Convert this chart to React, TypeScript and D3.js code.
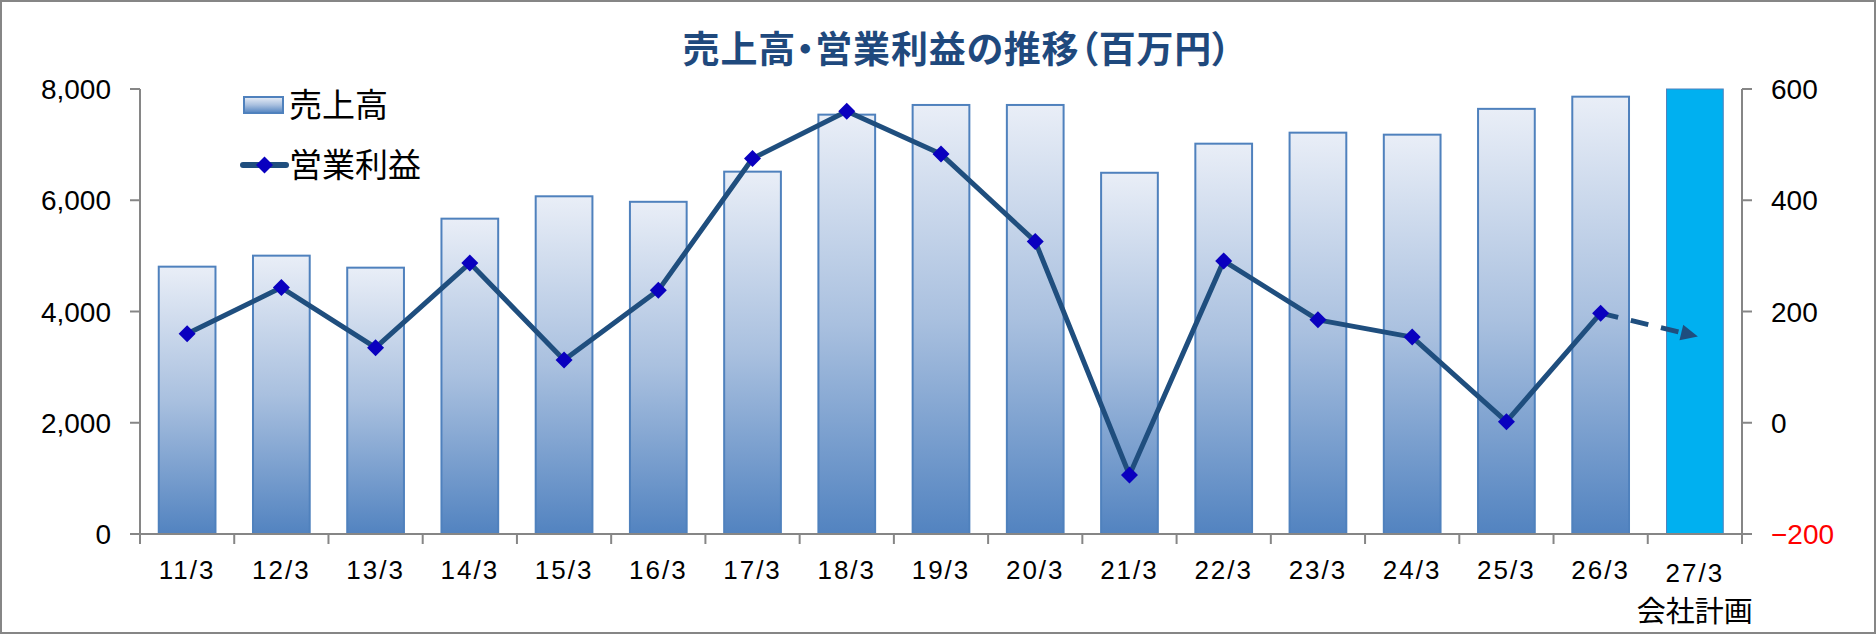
import React from "react";
import * as d3 from "d3";

const categories = ["11/3","12/3","13/3","14/3","15/3","16/3","17/3","18/3","19/3","20/3","21/3","22/3","23/3","24/3","25/3","26/3","27/3"];
const sales = [4806, 5004, 4788, 5669, 6071, 5972, 6514, 7539, 7713, 7713, 6494, 7017, 7215, 7179, 7643, 7862, 8000];
const profit = [160, 243, 135, 287, 113, 238, 475, 560, 483, 326, -94, 291, 185, 154, 2, 197];
const planProfit = 155;
const leftTicks = [0, 2000, 4000, 6000, 8000];
const rightTicks = [-200, 0, 200, 400, 600];
const title = "売上高・営業利益の推移（百万円）";
const planLabel = "会社計画";
const legendSales = "売上高";
const legendProfit = "営業利益";

const W = 1876, H = 635;
const L = 140, R = 1742, T = 89, B = 534;
const NUM_FONT = "'Liberation Sans', Arial, sans-serif";
const JP_FONT = "'Noto Sans CJK JP', sans-serif";
const AXIS = "#868686";
const LINE = "#1F4E7E";
const MARK = "#0A00BF";

export default function App() {
  const x = d3.scaleBand<string>().domain(categories).range([L, R]).paddingInner(0.398).paddingOuter(0.199);
  const yL = d3.scaleLinear().domain([0, 8000]).range([B, T]);
  const yR = d3.scaleLinear().domain([-200, 600]).range([B, T]);
  const step = x.step();
  const cx = (c: string) => (x(c) as number) + x.bandwidth() / 2;

  const lineGen = d3.line<number>().x((_, i) => cx(categories[i])).y((d) => yR(d));
  const lastIdx = profit.length - 1;
  const ax0 = cx(categories[lastIdx]), ay0 = yR(profit[lastIdx]);
  const ax1 = cx(categories[lastIdx + 1]) + 3, ay1 = yR(planProfit);
  const ang = Math.atan2(ay1 - ay0, ax1 - ax0);
  const headLen = 17, headW = 8;
  const bx = ax1 - headLen * Math.cos(ang), by = ay1 - headLen * Math.sin(ang);
  const head = [
    [ax1, ay1],
    [bx + headW * Math.sin(ang), by - headW * Math.cos(ang)],
    [bx - headW * Math.sin(ang), by + headW * Math.cos(ang)],
  ].map((p) => p.join(",")).join(" ");

  const diamond = (px: number, py: number, r = 8.5) =>
    `M${px},${py - r}L${px + r},${py}L${px},${py + r}L${px - r},${py}Z`;

  return (
    <svg width={W} height={H} style={{ position: "absolute", left: 0, top: 0, display: "block", background: "#fff" }}>
      <defs>
        <linearGradient id="barGrad" x1="0" y1="0" x2="0" y2="1">
          <stop offset="0" stopColor="#E9EEF7" />
          <stop offset="0.5" stopColor="#A9C0DF" />
          <stop offset="1" stopColor="#5283C0" />
        </linearGradient>
      </defs>
      <rect x={1} y={1} width={W - 2} height={H - 3} fill="#fff" stroke={AXIS} strokeWidth={2} />

      <text x={957} y={63} textAnchor="middle" fontFamily={JP_FONT} fontWeight="bold" fontSize={37} letterSpacing={0.8} fill="#1F497D" style={{ fontFeatureSettings: "'palt'" }}>{title}</text>

      {categories.map((c, i) => {
        const isPlan = i === categories.length - 1;
        return (
          <rect key={c} x={x(c)} y={yL(sales[i])} width={x.bandwidth()} height={B - yL(sales[i])}
            fill={isPlan ? "#00B0F0" : "url(#barGrad)"} stroke="#4F81BD" strokeWidth={isPlan ? 1 : 2} />
        );
      })}

      {/* axes */}
      <line x1={L} y1={T} x2={L} y2={B} stroke={AXIS} strokeWidth={2} />
      <line x1={R} y1={T} x2={R} y2={B} stroke={AXIS} strokeWidth={2} />
      <line x1={L - 10} y1={B} x2={R + 10} y2={B} stroke={AXIS} strokeWidth={2} />
      {leftTicks.map((t) => (
        <g key={"l" + t}>
          <line x1={L - 10} x2={L} y1={yL(t)} y2={yL(t)} stroke={AXIS} strokeWidth={2} />
          <text x={111} y={yL(t) + 10} textAnchor="end" fontFamily={NUM_FONT} fontSize={28} fill="#000">{d3.format(",")(t)}</text>
        </g>
      ))}
      {rightTicks.map((t) => (
        <g key={"r" + t}>
          <line x1={R} x2={R + 10} y1={yR(t)} y2={yR(t)} stroke={AXIS} strokeWidth={2} />
          <text x={1771} y={yR(t) + 10} textAnchor="start" fontFamily={NUM_FONT} fontSize={28} fill={t < 0 ? "#FF0000" : "#000"}>{t < 0 ? "−" + Math.abs(t) : String(t)}</text>
        </g>
      ))}
      {d3.range(categories.length + 1).map((i) => (
        <line key={"xt" + i} x1={L + i * step} x2={L + i * step} y1={B} y2={B + 10} stroke={AXIS} strokeWidth={2} />
      ))}
      {categories.map((c, i) => (
        <text key={"xl" + c} x={cx(c)} y={i === categories.length - 1 ? 582 : 579} textAnchor="middle" fontFamily={NUM_FONT} fontSize={26} letterSpacing={2} fill="#000">{c}</text>
      ))}
      <text x={cx(categories[categories.length - 1])} y={622} textAnchor="middle" fontFamily={JP_FONT} fontSize={29} fill="#000">{planLabel}</text>

      {/* profit line */}
      <path d={lineGen(profit) || ""} fill="none" stroke={LINE} strokeWidth={5} strokeLinejoin="round" />
      <line x1={ax0} y1={ay0} x2={bx} y2={by} stroke={LINE} strokeWidth={5} strokeDasharray="18 13" />
      <polygon points={head} fill={LINE} />
      {profit.map((v, i) => (
        <path key={"m" + i} d={diamond(cx(categories[i]), yR(v))} fill={MARK} />
      ))}

      {/* legend */}
      <rect x={244} y={97} width={39} height={16} fill="url(#barGrad)" stroke="#4F81BD" strokeWidth={2} />
      <text x={289} y={117} fontFamily={JP_FONT} fontSize={33} fill="#000">{legendSales}</text>
      <line x1={243} x2={286} y1={165} y2={165} stroke={LINE} strokeWidth={6} strokeLinecap="round" />
      <path d={diamond(264.5, 165, 8.5)} fill={MARK} />
      <text x={289} y={177} fontFamily={JP_FONT} fontSize={33} fill="#000">{legendProfit}</text>
    </svg>
  );
}
